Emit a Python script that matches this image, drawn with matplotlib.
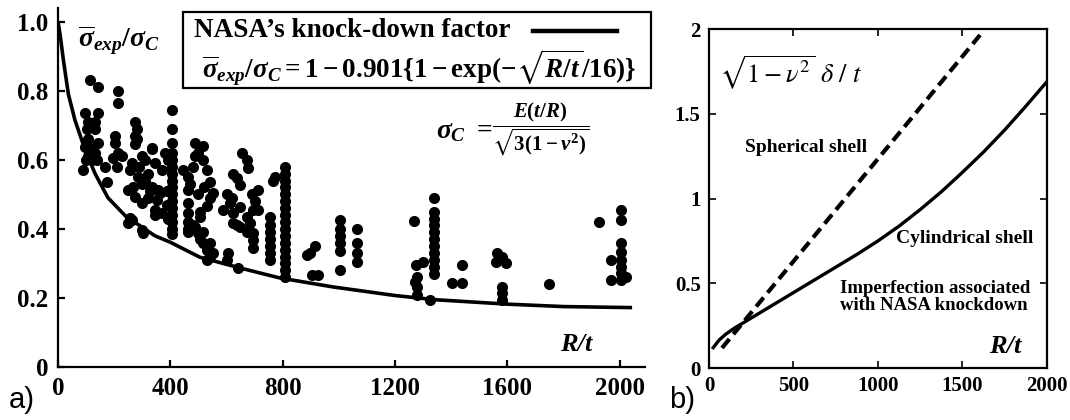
import matplotlib
matplotlib.use('Agg')
import matplotlib.pyplot as plt
from matplotlib.patches import Rectangle

plt.rcParams['mathtext.fontset'] = 'custom'
plt.rcParams['mathtext.rm'] = 'Liberation Serif:bold'
plt.rcParams['mathtext.it'] = 'Liberation Serif:bold:italic'
plt.rcParams['mathtext.bf'] = 'Liberation Serif:bold'
plt.rcParams['mathtext.fallback'] = 'stix'

###############################################
# a) test results sigma_exp/sigma_C vs R/t, loose points (R/t, ratio)
pts_low = [(89, 0.57), (114, 0.83), (142, 0.81), (213, 0.80), (213, 0.765),
           (96, 0.735), (142, 0.735), (107, 0.71), (132, 0.71), (103, 0.69),
           (133, 0.69), (107, 0.66), (142, 0.65), (114, 0.635), (203, 0.67),
           (203, 0.65), (100, 0.60), (130, 0.62), (140, 0.60), (120, 0.60),
           (96, 0.637), (107, 0.61), (167, 0.58), (174, 0.536), (196, 0.605),
           (210, 0.58), (228, 0.61), (215, 0.62)]
pts_300 = [(274, 0.71), (281, 0.69), (274, 0.67), (281, 0.66), (274, 0.645),
           (334, 0.635), (263, 0.59), (299, 0.61), (334, 0.63), (345, 0.59),
           (380, 0.62), (370, 0.57), (284, 0.55), (309, 0.54), (334, 0.52),
           (356, 0.513), (320, 0.49), (249, 0.513), (274, 0.493), (299, 0.475),
           (263, 0.426), (299, 0.397), (345, 0.455), (370, 0.446), (256, 0.432),
           (249, 0.417), (302, 0.388), (327, 0.51), (267, 0.52), (299, 0.53),
           (256, 0.57), (290, 0.58), (352, 0.484), (363, 0.504), (345, 0.44),
           (310, 0.60), (320, 0.56), (390, 0.60), (388, 0.51), (388, 0.47),
           (392, 0.43)]
pts_500 = [(487, 0.65), (487, 0.61), (498, 0.62), (516, 0.64), (516, 0.60),
           (530, 0.57), (540, 0.535), (551, 0.505), (462, 0.55), (462, 0.513),
           (462, 0.475), (462, 0.446), (462, 0.42), (462, 0.40), (462, 0.39),
           (480, 0.58), (470, 0.53), (540, 0.49), (530, 0.465), (505, 0.435),
           (505, 0.45), (480, 0.41), (487, 0.406), (498, 0.388), (516, 0.39),
           (505, 0.37), (516, 0.36), (540, 0.36), (530, 0.34), (551, 0.33),
           (540, 0.319), (530, 0.31), (500, 0.50), (520, 0.52), (445, 0.57)]
pts_650 = [(654, 0.62), (672, 0.60), (676, 0.577), (622, 0.56), (636, 0.547),
           (647, 0.527), (711, 0.513), (600, 0.50), (620, 0.49), (690, 0.50),
           (700, 0.48), (587, 0.455), (611, 0.475), (622, 0.446), (647, 0.464),
           (672, 0.435), (693, 0.455), (711, 0.455), (636, 0.41), (622, 0.417),
           (647, 0.406), (683, 0.417), (672, 0.39), (693, 0.388), (693, 0.368),
           (693, 0.345), (604, 0.33), (601, 0.31), (640, 0.287),
           (764, 0.54), (772, 0.55), (754, 0.435), (754, 0.41), (754, 0.39),
           (754, 0.37), (754, 0.35), (754, 0.33), (754, 0.31)]
pts_high = [(896, 0.33), (914, 0.35), (885, 0.325), (903, 0.267), (924, 0.267),
            (1269, 0.423), (1276, 0.296), (1278, 0.261), (1272, 0.246),
            (1280, 0.232), (1280, 0.209), (1298, 0.305), (1323, 0.194),
            (1440, 0.295), (1404, 0.243), (1440, 0.243), (1564, 0.33),
            (1582, 0.32), (1596, 0.30), (1560, 0.305), (1582, 0.232),
            (1582, 0.214), (1582, 0.194), (1749, 0.24), (1927, 0.42),
            (1970, 0.31), (1970, 0.252), (2023, 0.26)]

# vertical runs of tests at a single R/t
col_405 = [0.745, 0.69, 0.65, 0.62, 0.60, 0.58, 0.56, 0.54, 0.52, 0.50,
           0.48, 0.46, 0.44, 0.42, 0.40, 0.385]
col_807 = [0.58, 0.56, 0.54, 0.52, 0.50, 0.48, 0.46, 0.44, 0.42, 0.40,
           0.38, 0.36, 0.34, 0.32, 0.30, 0.28, 0.26]
col_1005 = [0.426, 0.40, 0.38, 0.36, 0.335, 0.28]
col_1063 = [0.40, 0.36, 0.33, 0.305]
col_1340 = [0.49, 0.45, 0.43, 0.41, 0.39, 0.37, 0.35, 0.33, 0.31, 0.29, 0.27]
col_2005 = [0.455, 0.426, 0.36, 0.333, 0.31, 0.29, 0.272, 0.252]

# NASA knock-down curve
kd_rt = [0, 8, 19, 37, 60, 96, 132, 178, 249, 281, 345, 398, 505, 647, 789,
         978, 1200, 1340, 1600, 1800, 2044]
kd_ratio = [1.0, 0.96, 0.89, 0.79, 0.716, 0.63, 0.56, 0.49, 0.43, 0.415, 0.38,
            0.362, 0.318, 0.287, 0.258, 0.232, 0.207, 0.195, 0.182, 0.175, 0.172]

# b) imperfection amplitude vs R/t
sph_rt = [77, 1604]
sph_delta = [0.118, 1.965]
cyl_rt = [25, 60, 100, 150, 200, 300, 400, 500, 625, 750, 875, 1000, 1125,
          1250, 1375, 1500, 1625, 1750, 1875, 2000]
cyl_delta = [0.12, 0.165, 0.20, 0.235, 0.265, 0.325, 0.385, 0.445, 0.52, 0.595,
             0.67, 0.75, 0.8375, 0.935, 1.04, 1.155, 1.275, 1.405, 1.545, 1.69]

left_yticks = [0, 0.2, 0.4, 0.6, 0.8, 1.0]
left_ylabels = ['0', '0.2', '0.4', '0.6', '0.8', '1.0']
left_xticks = [0, 400, 800, 1200, 1600, 2000]
right_yticks = [0, 0.5, 1, 1.5, 2]
right_ylabels = ['0', '0.5', '1', '1.5', '2']
right_xticks = [0, 500, 1000, 1500, 2000]

###############################################
serif = 'Liberation Serif'

fig = plt.figure(figsize=(10.7, 4.2), dpi=100)
ax = fig.add_axes([0.0542, 0.1262, 0.5486, 0.855])
bx = fig.add_axes([0.6626, 0.1238, 0.3159, 0.807])

# ---- panel a
rt_all = []
ratio_all = []
for group in (pts_low, pts_300, pts_500, pts_650, pts_high):
  for r, v in group:
    rt_all.append(r)
    ratio_all.append(v)
for r, vals in ((405, col_405), (807, col_807), (1005, col_1005),
                (1063, col_1063), (1340, col_1340), (2005, col_2005)):
  rt_all += [r] * len(vals)
  ratio_all += vals

ax.plot(kd_rt, kd_ratio, color='black', lw=2.6, solid_capstyle='butt')
ax.plot(rt_all, ratio_all, 'o', color='black', ms=8, mew=0)

ax.set_xlim(0, 2090)
ax.set_ylim(0, 1.04)
ax.set_xticks(left_xticks)
ax.set_xticklabels([str(x) for x in left_xticks])
ax.set_yticks(left_yticks)
ax.set_yticklabels(left_ylabels)
ax.spines['top'].set_visible(False)
ax.spines['right'].set_visible(False)
for s in ('left', 'bottom'):
  ax.spines[s].set_linewidth(1.6)
ax.tick_params(direction='in', length=5, width=1.6, labelsize=18, pad=7)
for lab in ax.get_xticklabels() + ax.get_yticklabels():
  lab.set_fontfamily(serif)
  lab.set_fontweight('bold')

ax.text(217, 0.945, r'$\overline{\sigma}_{exp}/\sigma_C$', fontsize=20,
        ha='center', va='center', math_fontfamily='custom')

# legend box with curve formula
ax.add_patch(Rectangle((444, 0.809), 1668, 0.22, transform=ax.transData,
                       fill=False, lw=1.6, ec='black', clip_on=False))
ax.text(486, 0.974, 'NASA\u2019s knock-down factor', fontsize=19.5,
        fontfamily=serif, fontweight='bold', ha='left', va='center')
ax.plot([1692, 1991], [0.974, 0.974], color='black', lw=3.2, clip_on=False)
ax.text(1285, 0.865,
        r'$\overline{\sigma}_{exp}/\sigma_C = 1 - 0.901\{1 - \exp(-\sqrt{R/t}/16)\}$',
        fontsize=19.5, ha='center', va='center', math_fontfamily='custom')

# classical buckling stress
ax.text(1345, 0.685, r'$\sigma_C\ =$', fontsize=20, ha='left', va='center',
        math_fontfamily='custom')
ax.text(1720, 0.69, r'$\dfrac{E(t/R)}{\sqrt{3(1-\nu^2)}}$',
        fontsize=15, ha='center', va='center', math_fontfamily='custom')
ax.text(1845, 0.064, 'R/t', fontsize=19, fontfamily=serif, fontweight='bold',
        fontstyle='italic', ha='center', va='center')

# ---- panel b
bx.plot(sph_rt, sph_delta, color='black', lw=3, linestyle=(0, (2.8, 1.5)))
bx.plot(cyl_rt, cyl_delta, color='black', lw=2.4)
bx.set_xlim(0, 2000)
bx.set_ylim(0, 2)
bx.set_xticks(right_xticks)
bx.set_xticklabels([str(x) for x in right_xticks])
bx.set_yticks(right_yticks)
bx.set_yticklabels(right_ylabels)
for s in bx.spines.values():
  s.set_linewidth(1.6)
bx.tick_params(direction='in', length=5, width=1.2, labelsize=15, pad=6,
               top=True, right=True)
for lab in bx.get_xticklabels() + bx.get_yticklabels():
  lab.set_fontfamily(serif)
  lab.set_fontweight('bold')

bx.text(485, 1.74, r'$\sqrt{1-\nu^2}\ \delta\ /\ t$', fontsize=19,
        ha='center', va='center', math_fontfamily='stix')
bx.text(574, 1.30, 'Spherical shell', fontsize=14, fontfamily=serif,
        fontweight='bold', ha='center', va='center')
bx.text(1515, 0.767, 'Cylindrical shell', fontsize=14, fontfamily=serif,
        fontweight='bold', ha='center', va='center')
bx.text(775, 0.42, 'Imperfection associated\nwith NASA knockdown', fontsize=13.5,
        fontfamily=serif, fontweight='bold', ha='left', va='center',
        linespacing=1.0)
bx.text(1751, 0.124, 'R/t', fontsize=19, fontfamily=serif, fontweight='bold',
        fontstyle='italic', ha='center', va='center')

fig.text(0.0206, 0.048, 'a)', fontsize=21, fontfamily='Liberation Sans',
         ha='center', va='center')
fig.text(0.637, 0.048, 'b)', fontsize=21, fontfamily='Liberation Sans',
         ha='center', va='center')

fig.savefig('out.png', dpi=100)
